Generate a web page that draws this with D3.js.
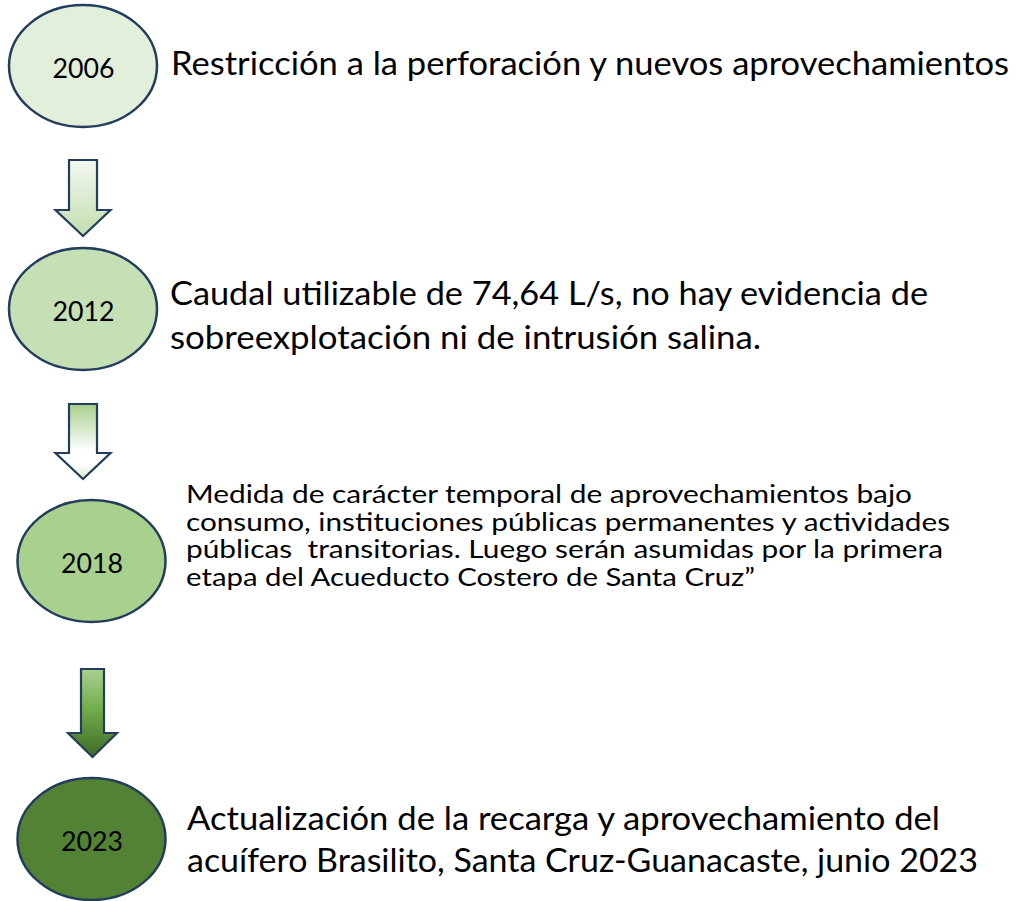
<!DOCTYPE html>
<html>
<head>
<meta charset="utf-8">
<script src="https://cdn.jsdelivr.net/npm/d3@7"></script>
<style>
  html, body { margin: 0; padding: 0; background: #ffffff; }
  svg { display: block; }
</style>
</head>
<body>
<svg id="chart" width="1018" height="901"></svg>
<script>
// ---- data ----
const years = ["2006", "2012", "2018", "2023"];
const descriptions = [
  ["Restricción a la perforación y nuevos aprovechamientos"],
  ["Caudal utilizable de 74,64 L/s, no hay evidencia de",
   "sobreexplotación ni de intrusión salina."],
  ["Medida de carácter temporal de aprovechamientos bajo",
   "consumo, instituciones públicas permanentes y actividades",
   "públicas  transitorias. Luego serán asumidas por la primera",
   "etapa del Acueducto Costero de Santa Cruz”"],
  ["Actualización de la recarga y aprovechamiento del",
   "acuífero Brasilito, Santa Cruz-Guanacaste, junio 2023"]
];

// ---- layout / style (kept separate from the data) ----
const nodeFill = ["#e2efda", "#c5e0b4", "#a9d18e", "#548235"];
const nodeCx = [83, 83, 91.5, 91.5];
const nodeCy = [66, 309, 561, 839];
const rx = 74, ry = 61;
const stroke = "#233e5c";

const textX = [171, 170, 186, 187];
const textY0 = [75, 305, 503, 830];
const lineGap = [0, 44, 27.5, 42];
const fontSize = [32.5, 32.5, 25.5, 32.5];
const lineWidths = [
  [838],
  [758, 591],
  [726, 764, 757, 569],
  [753, 791]
];

const arrows = [
  {cx: 83,   top: 160, shoulder: 210, tip: 236, sw: 14,   hw: 27.5,
   stops: [[0, "#f4f9f1"], [1, "#c1ddae"]]},
  {cx: 83,   top: 404, shoulder: 453, tip: 479, sw: 14,   hw: 27.5,
   stops: [[0, "#a6cf8a"], [0.62, "#ffffff"], [0.8, "#ffffff"], [1, "#d6eac8"]]},
  {cx: 92.5, top: 669, shoulder: 733, tip: 757, sw: 11.5, hw: 24.5,
   stops: [[0, "#a9d18e"], [0.45, "#72ad4b"], [1, "#3f6a28"]]}
];

const svg = d3.select("#chart");
const defs = svg.append("defs");

arrows.forEach((a, i) => {
  const g = defs.append("linearGradient")
    .attr("id", "arrowGrad" + i)
    .attr("x1", 0).attr("y1", 0).attr("x2", 0).attr("y2", 1);
  g.selectAll("stop").data(a.stops).join("stop")
    .attr("offset", d => d[0])
    .attr("stop-color", d => d[1]);
});

// arrows
const arrowPath = a => {
  const p = d3.path();
  p.moveTo(a.cx - a.sw, a.top);
  p.lineTo(a.cx + a.sw, a.top);
  p.lineTo(a.cx + a.sw, a.shoulder);
  p.lineTo(a.cx + a.hw, a.shoulder);
  p.lineTo(a.cx, a.tip);
  p.lineTo(a.cx - a.hw, a.shoulder);
  p.lineTo(a.cx - a.sw, a.shoulder);
  p.closePath();
  return p.toString();
};

svg.selectAll("path.arrow").data(arrows).join("path")
  .attr("class", "arrow")
  .attr("d", arrowPath)
  .attr("fill", (d, i) => `url(#arrowGrad${i})`)
  .attr("stroke", stroke)
  .attr("stroke-width", 2.2)
  .attr("stroke-linejoin", "miter");

// nodes
const nodes = svg.selectAll("g.node").data(years).join("g")
  .attr("class", "node");

nodes.append("ellipse")
  .attr("cx", (d, i) => nodeCx[i])
  .attr("cy", (d, i) => nodeCy[i])
  .attr("rx", rx).attr("ry", ry)
  .attr("fill", (d, i) => nodeFill[i])
  .attr("stroke", stroke)
  .attr("stroke-width", 2.5);

nodes.append("text")
  .attr("x", (d, i) => nodeCx[i] + 0.5)
  .attr("y", (d, i) => nodeCy[i] + 11.5)
  .attr("text-anchor", "middle")
  .attr("font-family", "Lato, 'Open Sans', sans-serif")
  .attr("font-size", 27)
  .attr("fill", "#000")
  .attr("textLength", 62)
  .attr("lengthAdjust", "spacingAndGlyphs")
  .text(d => d);

// descriptions
const descG = svg.selectAll("g.desc").data(descriptions).join("g")
  .attr("class", "desc");

descG.each(function(lines, i) {
  d3.select(this).selectAll("text").data(lines).join("text")
    .attr("x", textX[i])
    .attr("y", (d, j) => textY0[i] + j * lineGap[i])
    .attr("font-family", "Lato, 'Open Sans', sans-serif")
    .attr("font-size", fontSize[i])
    .attr("fill", "#000")
    .attr("xml:space", "preserve")
    .style("white-space", "pre")
    .attr("textLength", (d, j) => lineWidths[i][j])
    .attr("lengthAdjust", "spacingAndGlyphs")
    .text(d => d);
});
</script>
</body>
</html>
